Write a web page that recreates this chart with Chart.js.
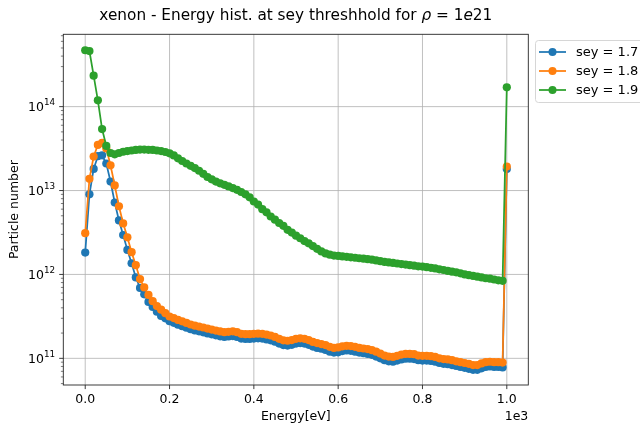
<!DOCTYPE html>
<html>
<head>
<meta charset="utf-8">
<title>xenon energy histogram</title>
<script src="https://cdn.jsdelivr.net/npm/chart.js@4.4.1/dist/chart.umd.min.js"></script>
<style>
  html, body { margin: 0; padding: 0; background: #fff; }
  #wrap { position: relative; width: 640px; height: 425px; }
</style>
</head>
<body>
<div id="wrap"><canvas id="histChart" width="640" height="425"></canvas></div>
<script>
/* energy bins, eV */
var ENERGY = [];
for (var e = 0; e <= 1000; e += 10) ENERGY.push(e);

/* particle counts per bin */
var SEY_17 = [
  1.82e12, 9.0e12, 1.81e13, 2.57e13, 2.63e13, 2.1e13, 1.28e13, 7.2e12, 4.4e12, 2.95e12,
  1.96e12, 1.36e12, 9.2e11, 6.9e11, 5.8e11, 4.7e11, 4.1e11, 3.6e11, 3.2e11, 3.0e11,
  2.77e11, 2.65e11, 2.52e11, 2.42e11, 2.32e11, 2.22e11, 2.15e11, 2.1e11, 2.04e11, 1.98e11,
  1.93e11, 1.88e11, 1.83e11, 1.8e11, 1.82e11, 1.84e11, 1.8e11, 1.72e11, 1.7e11, 1.7e11,
  1.72e11, 1.73e11, 1.72e11, 1.68e11, 1.64e11, 1.58e11, 1.5e11, 1.44e11, 1.42e11, 1.45e11,
  1.5e11, 1.52e11, 1.5e11, 1.45e11, 1.38e11, 1.33e11, 1.3e11, 1.26e11, 1.2e11, 1.17e11,
  1.18e11, 1.22e11, 1.24e11, 1.23e11, 1.2e11, 1.17e11, 1.15e11, 1.13e11, 1.1e11, 1.05e11,
  1.0e11, 9.5e10, 9.2e10, 9.1e10, 9.4e10, 9.7e10, 9.9e10, 9.9e10, 9.8e10, 9.5e10,
  9.4e10, 9.4e10, 9.3e10, 9.1e10, 8.8e10, 8.6e10, 8.5e10, 8.3e10, 8.1e10, 7.9e10,
  7.7e10, 7.5e10, 7.3e10, 7.3e10, 7.6e10, 7.9e10, 8.0e10, 7.9e10, 7.9e10, 7.8e10,
  1.8e13
];
var SEY_18 = [
  3.1e12, 1.38e13, 2.54e13, 3.5e13, 3.7e13, 3.17e13, 2.0e13, 1.15e13, 6.5e12, 4.06e12,
  2.77e12, 1.84e12, 1.29e12, 8.8e11, 7.0e11, 5.7e11, 4.8e11, 4.2e11, 3.8e11, 3.45e11,
  3.15e11, 3.02e11, 2.87e11, 2.76e11, 2.64e11, 2.53e11, 2.45e11, 2.39e11, 2.33e11, 2.26e11,
  2.2e11, 2.14e11, 2.09e11, 2.05e11, 2.07e11, 2.1e11, 2.05e11, 1.96e11, 1.94e11, 1.94e11,
  1.96e11, 1.97e11, 1.96e11, 1.92e11, 1.87e11, 1.8e11, 1.71e11, 1.64e11, 1.62e11, 1.65e11,
  1.71e11, 1.73e11, 1.71e11, 1.65e11, 1.57e11, 1.52e11, 1.48e11, 1.44e11, 1.37e11, 1.33e11,
  1.35e11, 1.39e11, 1.41e11, 1.4e11, 1.37e11, 1.33e11, 1.31e11, 1.29e11, 1.25e11, 1.2e11,
  1.14e11, 1.08e11, 1.05e11, 1.04e11, 1.07e11, 1.11e11, 1.13e11, 1.13e11, 1.12e11, 1.08e11,
  1.07e11, 1.07e11, 1.06e11, 1.04e11, 1.0e11, 9.8e10, 9.7e10, 9.5e10, 9.2e10, 9.0e10,
  8.8e10, 8.6e10, 8.3e10, 8.3e10, 8.7e10, 9.0e10, 9.1e10, 9.0e10, 9.0e10, 8.9e10,
  1.93e13
];
var SEY_19 = [
  4.7e14, 4.6e14, 2.34e14, 1.19e14, 5.4e13, 3.4e13, 2.8e13, 2.7e13, 2.8e13, 2.9e13,
  2.95e13, 3.0e13, 3.05e13, 3.08e13, 3.08e13, 3.06e13, 3.05e13, 3.0e13, 2.95e13, 2.88e13,
  2.78e13, 2.62e13, 2.42e13, 2.25e13, 2.1e13, 1.97e13, 1.85e13, 1.72e13, 1.58e13, 1.45e13,
  1.36e13, 1.28e13, 1.22e13, 1.17e13, 1.12e13, 1.07e13, 1.02e13, 9.6e12, 9.0e12, 8.3e12,
  7.4e12, 6.8e12, 6.0e12, 5.5e12, 4.9e12, 4.5e12, 4.1e12, 3.8e12, 3.4e12, 3.15e12,
  2.9e12, 2.7e12, 2.5e12, 2.35e12, 2.18e12, 2.02e12, 1.88e12, 1.78e12, 1.72e12, 1.68e12,
  1.66e12, 1.64e12, 1.62e12, 1.6e12, 1.58e12, 1.56e12, 1.54e12, 1.52e12, 1.5e12, 1.47e12,
  1.44e12, 1.41e12, 1.39e12, 1.37e12, 1.35e12, 1.33e12, 1.31e12, 1.29e12, 1.27e12, 1.25e12,
  1.24e12, 1.22e12, 1.2e12, 1.18e12, 1.15e12, 1.13e12, 1.1e12, 1.08e12, 1.06e12, 1.03e12,
  1.0e12, 9.8e11, 9.6e11, 9.4e11, 9.2e11, 9.0e11, 8.9e11, 8.7e11, 8.5e11, 8.4e11,
  1.7e14
];

var SERIES_LABELS = ["sey = 1.7", "sey = 1.8", "sey = 1.9"];
var SERIES_COLORS = ["#1f77b4", "#ff7f0e", "#2ca02c"];
var X_TICKS = [0, 200, 400, 600, 800, 1000];
var X_TICK_LABELS = ["0.0", "0.2", "0.4", "0.6", "0.8", "1.0"];
var Y_EXPONENTS = [11, 12, 13, 14];

var FONT = "DejaVu Sans, Verdana, sans-serif";
var FS = 12.5;

function pts(arr) {
  return arr.map(function (v, i) { return { x: ENERGY[i], y: v }; });
}

/* grid, spines, ticks, labels and legend, matplotlib style */
var decoPlugin = {
  id: "deco",
  beforeDatasetsDraw: function (chart) {
    var ctx = chart.ctx, a = chart.chartArea;
    var xs = chart.scales.x, ys = chart.scales.y;
    ctx.save();
    ctx.strokeStyle = "#b0b0b0";
    ctx.lineWidth = 0.8;
    X_TICKS.forEach(function (t) {
      var px = xs.getPixelForValue(t);
      ctx.beginPath(); ctx.moveTo(px, a.top); ctx.lineTo(px, a.bottom); ctx.stroke();
    });
    Y_EXPONENTS.forEach(function (k) {
      var py = ys.getPixelForValue(Math.pow(10, k));
      ctx.beginPath(); ctx.moveTo(a.left, py); ctx.lineTo(a.right, py); ctx.stroke();
    });
    ctx.restore();
  },
  afterDraw: function (chart) {
    var ctx = chart.ctx, a = chart.chartArea;
    var xs = chart.scales.x, ys = chart.scales.y;
    ctx.save();

    // spines
    ctx.strokeStyle = "#262626";
    ctx.lineWidth = 0.9;
    ctx.strokeRect(a.left, a.top, a.right - a.left, a.bottom - a.top);

    // x ticks + labels
    ctx.fillStyle = "#000";
    ctx.font = FS + "px " + FONT;
    ctx.textAlign = "center";
    ctx.textBaseline = "top";
    X_TICKS.forEach(function (t, i) {
      var px = xs.getPixelForValue(t);
      ctx.beginPath(); ctx.moveTo(px, a.bottom); ctx.lineTo(px, a.bottom + 4.1); ctx.stroke();
      ctx.fillText(X_TICK_LABELS[i], px, a.bottom + 8.2);
    });
    ctx.fillText("Energy[eV]", (a.left + a.right) / 2, a.bottom + 25);
    ctx.textAlign = "right";
    ctx.fillText("1e3", a.right, a.bottom + 25);

    // y ticks (major + minor) + labels
    var lo = ys.min, hi = ys.max;
    for (var k = 10; k <= 15; k++) {
      for (var m = 1; m <= 9; m++) {
        var v = m * Math.pow(10, k);
        if (v < lo || v > hi) continue;
        var py = ys.getPixelForValue(v);
        ctx.lineWidth = m === 1 ? 0.9 : 0.6;
        ctx.beginPath(); ctx.moveTo(a.left, py); ctx.lineTo(a.left - (m === 1 ? 4.1 : 2.4), py); ctx.stroke();
      }
    }
    ctx.textBaseline = "middle";
    Y_EXPONENTS.forEach(function (k) {
      var py = ys.getPixelForValue(Math.pow(10, k));
      var right = a.left - 8.2;
      ctx.font = (FS * 0.7).toFixed(1) + "px " + FONT;
      ctx.textAlign = "right";
      var ew = ctx.measureText(String(k)).width;
      ctx.fillText(String(k), right, py - 4);
      ctx.font = FS + "px " + FONT;
      ctx.fillText("10", right - ew, py + 1);
    });

    // y axis label
    ctx.save();
    ctx.translate(15, (a.top + a.bottom) / 2);
    ctx.rotate(-Math.PI / 2);
    ctx.textAlign = "center";
    ctx.textBaseline = "middle";
    ctx.font = FS + "px " + FONT;
    ctx.fillText("Particle number", 0, 0);
    ctx.restore();

    // title with a little mathtext
    var TS = 15.3;
    var parts = [
      ["xenon - Energy hist. at sey threshhold for ", ""],
      ["\u03c1", "italic "],
      [" = 1", ""],
      ["e", "italic "],
      ["21", ""]
    ];
    var total = 0;
    parts.forEach(function (p) {
      ctx.font = p[1] + TS + "px " + FONT;
      p.push(ctx.measureText(p[0]).width);
      total += p[2];
    });
    var tx = (a.left + a.right) / 2 - total / 2;
    ctx.textAlign = "left";
    ctx.textBaseline = "alphabetic";
    parts.forEach(function (p) {
      ctx.font = p[1] + TS + "px " + FONT;
      ctx.fillText(p[0], tx, 20);
      tx += p[2];
    });

    // legend box
    var lx = 535, ly = 40, lw = 120, lh = 62;
    ctx.beginPath();
    if (ctx.roundRect) ctx.roundRect(lx + 0.5, ly + 0.5, lw, lh, 3);
    else ctx.rect(lx + 0.5, ly + 0.5, lw, lh);
    ctx.fillStyle = "rgba(255,255,255,0.8)";
    ctx.fill();
    ctx.strokeStyle = "#d6d6d6";
    ctx.lineWidth = 1;
    ctx.stroke();
    ctx.font = "13px " + FONT;
    ctx.textAlign = "left";
    ctx.textBaseline = "middle";
    SERIES_LABELS.forEach(function (lab, i) {
      var ry = 52 + i * 19;
      ctx.strokeStyle = SERIES_COLORS[i];
      ctx.lineWidth = 1.75;
      ctx.beginPath(); ctx.moveTo(539, ry); ctx.lineTo(566, ry); ctx.stroke();
      ctx.fillStyle = SERIES_COLORS[i];
      ctx.beginPath(); ctx.arc(552.5, ry, 4, 0, Math.PI * 2); ctx.fill();
      ctx.fillStyle = "#000";
      ctx.fillText(lab, 576, ry + 1);
    });
    ctx.restore();
  }
};

function makeSet(i, data, order) {
  return {
    label: SERIES_LABELS[i],
    data: pts(data),
    borderColor: SERIES_COLORS[i],
    backgroundColor: SERIES_COLORS[i],
    borderWidth: 1.75,
    pointRadius: 4.1,
    pointBorderWidth: 0,
    pointHoverRadius: 4.1,
    tension: 0,
    order: order
  };
}

new Chart(document.getElementById("histChart"), {
  type: "line",
  data: {
    datasets: [
      makeSet(0, SEY_17, 3),
      makeSet(1, SEY_18, 2),
      makeSet(2, SEY_19, 1)
    ]
  },
  options: {
    responsive: false,
    animation: false,
    devicePixelRatio: 1,
    layout: { padding: { left: 63.3, right: 111.7, top: 34.3, bottom: 40 } },
    plugins: { legend: { display: false }, title: { display: false }, tooltip: { enabled: false } },
    scales: {
      x: { type: "linear", min: -52, max: 1051, display: false },
      y: { type: "logarithmic", min: 4.81e10, max: 7.28e14, display: false }
    }
  },
  plugins: [decoPlugin]
});
</script>
</body>
</html>
